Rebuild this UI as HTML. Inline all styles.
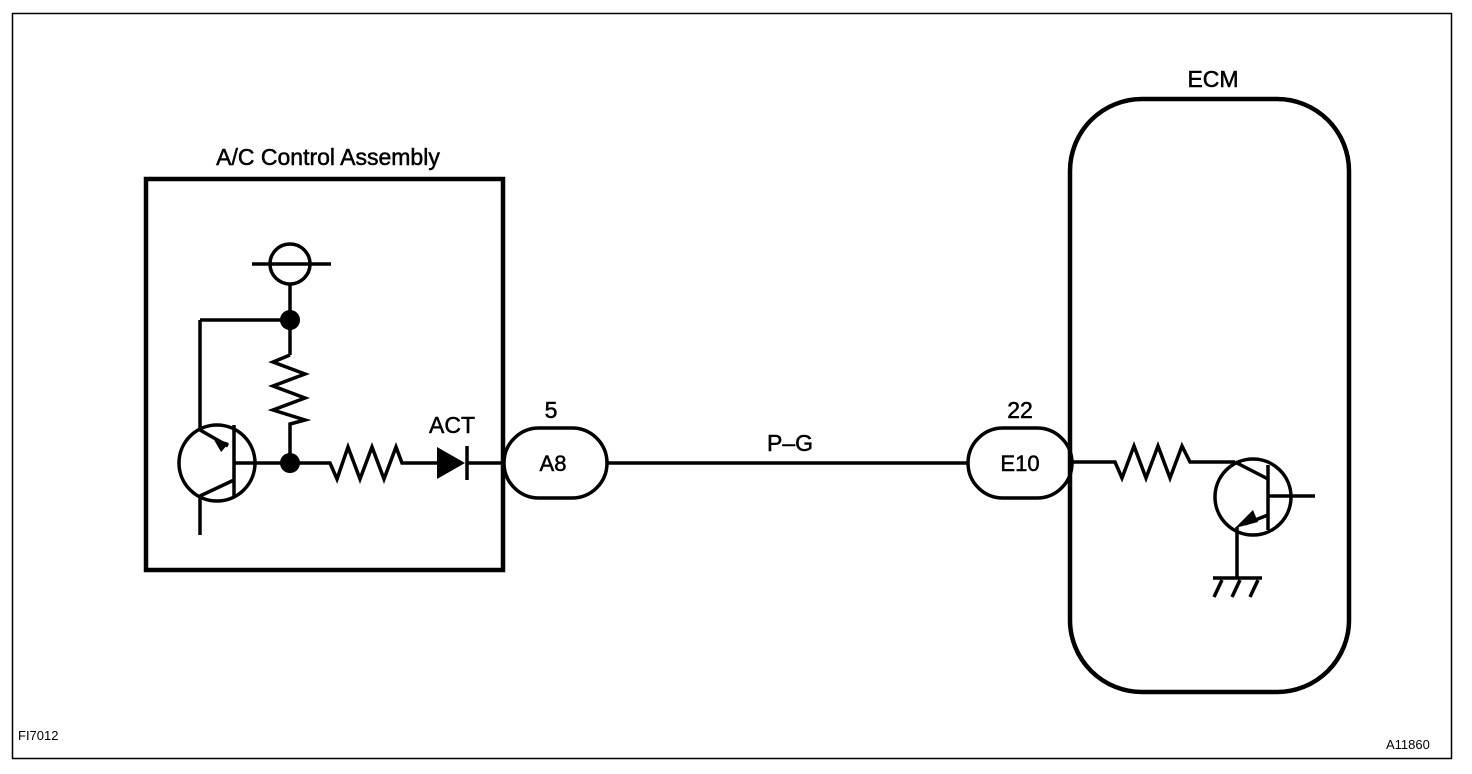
<!DOCTYPE html>
<html><head><style>
html,body{margin:0;padding:0;background:#fff;}
svg{display:block;}
text{font-family:"Liberation Sans",Arial,sans-serif;fill:#000;}
</style></head><body>
<svg width="1472" height="774" viewBox="0 0 1472 774" xmlns="http://www.w3.org/2000/svg">
<rect x="12.5" y="13.5" width="1439" height="745" fill="none" stroke="#000" stroke-width="1.5"/>
<g fill="none" stroke="#000" stroke-width="3.5" stroke-linejoin="miter">
<rect x="146" y="179" width="357" height="391" stroke-width="4.5"/>
<circle cx="290" cy="264" r="20"/>
<line x1="252" y1="264" x2="331" y2="264"/>
<line x1="290" y1="284" x2="290" y2="355"/>
<line x1="200" y1="320" x2="290" y2="320"/>
<line x1="200" y1="320" x2="200" y2="430"/>
<polyline points="290,355 273,362 305,374 273,386 305,398 273,410 305,420 290,424 290,463"/>
<circle cx="217" cy="463" r="38"/>
<line x1="234" y1="425" x2="234" y2="497"/>
<line x1="234" y1="463" x2="320" y2="463"/>
<line x1="200" y1="430" x2="228" y2="446"/>
<line x1="234" y1="480" x2="200" y2="496"/>
<line x1="200" y1="496" x2="200" y2="535"/>
<polyline points="320,463 330,463 337,479 348,447 360,479 372,447 384,479 396,447 402,463 437,463"/>
<line x1="467" y1="463" x2="503" y2="463"/>
<line x1="467" y1="446" x2="467" y2="480"/>
<rect x="504" y="428" width="103" height="70" rx="35"/>
<line x1="607" y1="463" x2="968" y2="463"/>
<rect x="968" y="428" width="104" height="70" rx="35"/>
<rect x="1070" y="99" width="279" height="593" rx="72" stroke-width="4.5"/>
<polyline points="1072,462 1115,462 1122,478 1134,446 1146,478 1158,446 1170,478 1182,446 1190,462 1235,462"/>
<circle cx="1253" cy="497" r="38"/>
<line x1="1268" y1="465" x2="1268" y2="530"/>
<line x1="1268" y1="496" x2="1315" y2="496"/>
<line x1="1235" y1="462" x2="1268" y2="479"/>
<line x1="1268" y1="515" x2="1245" y2="524"/>
<line x1="1237" y1="527" x2="1237" y2="578"/>
<line x1="1213" y1="578" x2="1262" y2="578"/>
<line x1="1222" y1="580" x2="1214" y2="597"/>
<line x1="1240" y1="580" x2="1232" y2="597"/>
<line x1="1258" y1="580" x2="1250" y2="597"/>
</g>
<g fill="#000">
<circle cx="290" cy="320" r="10"/>
<circle cx="290" cy="463" r="10"/>
<polygon points="213,438 229,443 221,452"/>
<polygon points="437,447 437,479 465,463"/>
<polygon points="1235,528 1253,510 1258,522"/>
</g>
<g stroke="#000" stroke-width="0.5">
<text x="328" y="165" font-size="23" text-anchor="middle">A/C Control Assembly</text>
<text x="452" y="433" font-size="23" text-anchor="middle">ACT</text>
<text x="551" y="418" font-size="23" text-anchor="middle">5</text>
<text x="553" y="471" font-size="22" text-anchor="middle">A8</text>
<text x="790" y="451" font-size="23" text-anchor="middle">P–G</text>
<text x="1020" y="418" font-size="23" text-anchor="middle">22</text>
<text x="1020" y="471" font-size="22" text-anchor="middle">E10</text>
<text x="1213" y="87" font-size="23" text-anchor="middle">ECM</text>
</g>
<text x="18" y="740" font-size="13">FI7012</text>
<text x="1386" y="749" font-size="13">A11860</text>
</svg>
</body></html>
